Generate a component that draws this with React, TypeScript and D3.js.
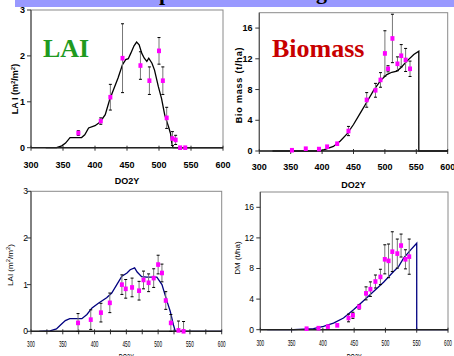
import * as d3 from 'd3';

const xTicks = [300, 350, 400, 450, 500, 550, 600];
const laiTicks = [0, 1, 2, 3];
const massTicks = [0, 4, 8, 12, 16];

// top left: LAI
const laiObsDoyA = [374, 409, 424, 443, 471, 485, 500, 506, 512, 521, 526, 533, 541];
const laiObsA = [0.32, 0.58, 1.1, 1.95, 1.79, 1.46, 2.11, 1.46, 0.65, 0.2, 0.17, 0, 0];
const laiErrA = [0.05, 0.07, 0.28, 0.75, 0.3, 0.3, 0.29, 0.3, 0.23, 0.15, 0.1, 0, 0];
const laiSimDoyA = [323, 340, 348, 354, 361, 379, 384, 390, 400, 408, 416, 423, 429, 436, 443, 448, 452, 456, 461, 465, 469, 473, 477, 481, 484, 489, 493, 499, 504, 509, 515, 518, 520, 522, 600];
const laiSimA = [0, 0, 0.04, 0.1, 0.22, 0.22, 0.28, 0.43, 0.48, 0.56, 0.72, 1.05, 1.27, 1.52, 1.81, 1.92, 1.94, 2.06, 2.22, 2.3, 2.24, 2.06, 1.95, 1.88, 1.95, 1.84, 1.69, 1.33, 1.07, 0.71, 0.45, 0.31, 0.1, 0, 0];

// top right: biomass
const bioObsDoy = [352, 374, 395, 408, 424, 442, 471, 485, 493, 500, 505, 512, 520, 526, 533, 540];
const bioObs = [0.1, 0.3, 0.25, 0.56, 0.95, 2.6, 6.65, 7.9, 9.25, 12.7, 10.7, 14.65, 11.35, 12.4, 11.85, 10.7];
const bioErr = [0, 0, 0, 0, 0, 0.6, 0.95, 0.9, 0.95, 2.95, 0.4, 3.15, 0.9, 1.45, 1.5, 1.0];
const bioSimDoy = [321, 397, 408, 418, 429, 440, 450, 461, 472, 482, 493, 503, 511, 519, 525, 535, 546, 554, 554, 600];
const bioSim = [0, 0, 0.3, 0.6, 1.3, 2.25, 3.45, 4.97, 6.48, 7.9, 9.16, 9.94, 10.25, 10.4, 10.8, 11.7, 12.56, 13.0, 0, 0];

// bottom left: LAI
const laiObsDoyB = [374, 394, 410, 424, 443, 449, 459, 470, 477, 485, 493, 500, 506, 512, 520, 532, 540];
const laiObsB = [0.18, 0.25, 0.4, 0.61, 1.0, 0.91, 0.94, 0.87, 1.1, 1.04, 1.14, 1.43, 1.25, 0.66, 0.18, 0.02, 0];
const laiErrB = [0.2, 0.21, 0.2, 0.21, 0.21, 0.2, 0.2, 0.2, 0.19, 0.19, 0.2, 0.2, 0.19, 0.19, 0.18, 0.2, 0.21];
const laiSimDoyB = [313, 330, 340, 346, 354, 361, 380, 388, 396, 406, 419, 427, 435, 443, 451, 456, 463, 467, 474, 482, 498, 506, 514, 519, 524, 527, 600];
const laiSimB = [0, 0.01, 0.05, 0.13, 0.23, 0.27, 0.27, 0.36, 0.5, 0.6, 0.72, 0.82, 1.0, 1.18, 1.25, 1.32, 1.36, 1.27, 1.17, 1.16, 1.16, 1.0, 0.64, 0.43, 0.14, 0, 0];

// bottom right: DM
const dmObsDoy = [374, 393, 408, 423, 441, 448, 458, 469, 476, 484, 492, 499, 505, 511, 519, 525, 532, 538];
const dmObs = [0.13, 0.2, 0.4, 0.57, 1.53, 1.88, 3.0, 4.75, 5.3, 6.3, 6.9, 9.2, 9.0, 10.2, 9.95, 11.0, 9.2, 9.55];
const dmErr = [0, 0, 0, 0, 0.5, 0.4, 0.3, 0.85, 0.95, 0.85, 1.0, 1.9, 2.2, 2.6, 1.9, 1.5, 1.25, 2.3];
const dmSimDoy = [311, 353, 385, 401, 417, 433, 449, 465, 481, 497, 513, 521, 529, 540, 550, 550, 600];
const dmSim = [0, 0, 0.13, 0.44, 0.87, 1.52, 2.6, 3.78, 5.0, 6.2, 7.6, 8.25, 9.35, 10.4, 11.3, 0, 0];

interface Box { l: number; r: number; t: number; b: number }

interface PanelProps {
  box: Box;
  yMax: number;
  yTicks: number[];
  minorStep?: number;
  simDoy: number[];
  sim: number[];
  simColor: string;
  obsDoy: number[];
  obs: number[];
  err: number[];
  narrow?: boolean;
  tickY: number;
  yTickX: number;
  xLabelY: number;
  yLabel: React.ReactNode;
  yLabelX: number;
  yLabelY: number;
}

function Panel(p: PanelProps) {
  const { box } = p;
  const x = d3.scaleLinear().domain([300, 600]).range([box.l, box.r]);
  const y = d3.scaleLinear().domain([0, p.yMax]).range([box.b, box.t]);
  const line = d3.line<number>().x((_, i) => x(p.simDoy[i])).y(d => y(d));
  const font = 'Liberation Sans, Arial, sans-serif';
  const weight = p.narrow ? 'normal' : 'bold';
  const tickLen = (s: string) => (p.narrow ? s.length * 2.6 : undefined);
  const minor = p.minorStep ? d3.range(300, 601, p.minorStep) : xTicks;

  return (
    <g>
      <rect x={box.l} y={box.t} width={box.r - box.l} height={box.b - box.t} fill="none" stroke="#8a8a8a" strokeWidth={1} />
      <line x1={box.l} x2={box.l} y1={box.t} y2={box.b} stroke="#555" strokeWidth={1.2} />
      {p.yTicks.map(t => (
        <g key={'y' + t}>
          <line x1={box.l - 4} x2={box.l} y1={y(t)} y2={y(t)} stroke="#333" />
          <text x={p.yTickX} y={y(t)} dy="0.35em" textAnchor="end" fontFamily={font} fontWeight={weight} fontSize={p.narrow ? 8.5 : 9}>{t}</text>
        </g>
      ))}
      {minor.map(t => (
        <line key={'m' + t} x1={x(t)} x2={x(t)} y1={box.b - 2} y2={box.b + 3} stroke="#333" />
      ))}
      {xTicks.map(t => (
        <text key={'x' + t} x={x(t)} y={p.tickY} textAnchor="middle" fontFamily={font} fontWeight={weight}
          fontSize={p.narrow ? 8.5 : 9} textLength={tickLen(String(t))} lengthAdjust="spacingAndGlyphs">{t}</text>
      ))}
      <path d={line(p.sim) ?? ''} fill="none" stroke={p.simColor} strokeWidth={1.3} />
      <line x1={box.l} x2={box.r} y1={box.b} y2={box.b} stroke="#222" strokeWidth={1.4} />
      {p.obs.map((v, i) => {
        const cx = x(p.obsDoy[i]);
        const e = p.err[i];
        if (e <= 0) return null;
        const lo = y(Math.max(0, v - e));
        const hi = y(v + e);
        return (
          <g key={'e' + i}>
            <line x1={cx} x2={cx} y1={lo} y2={hi} stroke="#777" strokeWidth={1} />
            <line x1={cx - 1.5} x2={cx + 1.5} y1={lo} y2={lo} stroke="#000" strokeWidth={1} />
            <line x1={cx - 1.5} x2={cx + 1.5} y1={hi} y2={hi} stroke="#000" strokeWidth={1} />
          </g>
        );
      })}
      {p.obs.map((v, i) => (
        <rect key={'o' + i} x={x(p.obsDoy[i]) - 2} y={y(v) - 2.3} width={4} height={4.6} fill="#ff00ff" />
      ))}
      <text x={(box.l + box.r) / 2} y={p.xLabelY} textAnchor="middle" fontFamily={font} fontWeight={weight}
        fontSize={9} textLength={p.narrow ? 15 : undefined} lengthAdjust="spacingAndGlyphs">DO2Y</text>
      <text transform={`translate(${p.yLabelX},${p.yLabelY}) rotate(-90)`} textAnchor="middle" fontFamily={font}
        fontWeight={weight} fontSize={p.narrow ? 8 : 9}>{p.yLabel}</text>
    </g>
  );
}

export default function App() {
  const sup = (s: string) => <tspan baselineShift="super" fontSize={6}>{s}</tspan>;
  return (
    <svg width={454} height={356} style={{ position: 'absolute', left: 0, top: 0, background: '#fff' }}>
      <rect x={15} y={0} width={439} height={7} fill="#9999ff" />
      <text x={159} y={0} fontFamily="Liberation Serif, serif" fontWeight="bold" fontSize={22}>p</text>
      <text x={316} y={-1.5} fontFamily="Liberation Serif, serif" fontWeight="bold" fontSize={22}>g</text>

      <Panel box={{ l: 31, r: 223, t: 10, b: 147.7 }} yMax={3} yTicks={laiTicks}
        simDoy={laiSimDoyA} sim={laiSimA} simColor="#000"
        obsDoy={laiObsDoyA} obs={laiObsA} err={laiErrA}
        tickY={167.5} yTickX={25} xLabelY={184}
        yLabel={<>LA I (m{sup('2')}/m{sup('2')})</>} yLabelX={18} yLabelY={89} />
      <text x={43} y={57} fontFamily="Liberation Serif, serif" fontWeight="bold" fontSize={26} fill="#1f9a1f">LAI</text>

      <Panel box={{ l: 259.3, r: 447.7, t: 12.7, b: 151 }} yMax={18} yTicks={massTicks}
        simDoy={bioSimDoy} sim={bioSim} simColor="#000"
        obsDoy={bioObsDoy} obs={bioObs} err={bioErr}
        tickY={169.5} yTickX={252.5} xLabelY={187.5}
        yLabel={<tspan letterSpacing={0.8}>Bio mass (t/ha)</tspan>} yLabelX={242} yLabelY={85} />
      <text x={272} y={57} fontFamily="Liberation Serif, serif" fontWeight="bold" fontSize={26} fill="#c80000">Biomass</text>

      <Panel box={{ l: 31, r: 221.7, t: 191.3, b: 331.3 }} yMax={3} yTicks={laiTicks} minorStep={25}
        simDoy={laiSimDoyB} sim={laiSimB} simColor="#000080"
        obsDoy={laiObsDoyB} obs={laiObsB} err={laiErrB} narrow
        tickY={346.5} yTickX={28} xLabelY={360}
        yLabel={<>LAI (m{sup('2')}/m{sup('2')})</>} yLabelX={13} yLabelY={265} />

      <Panel box={{ l: 260.3, r: 448, t: 192, b: 329.7 }} yMax={18} yTicks={massTicks}
        simDoy={dmSimDoy} sim={dmSim} simColor="#000080"
        obsDoy={dmObsDoy} obs={dmObs} err={dmErr} narrow
        tickY={346} yTickX={254} xLabelY={360}
        yLabel="DM (t/ha)" yLabelX={240} yLabelY={258} />
    </svg>
  );
}
